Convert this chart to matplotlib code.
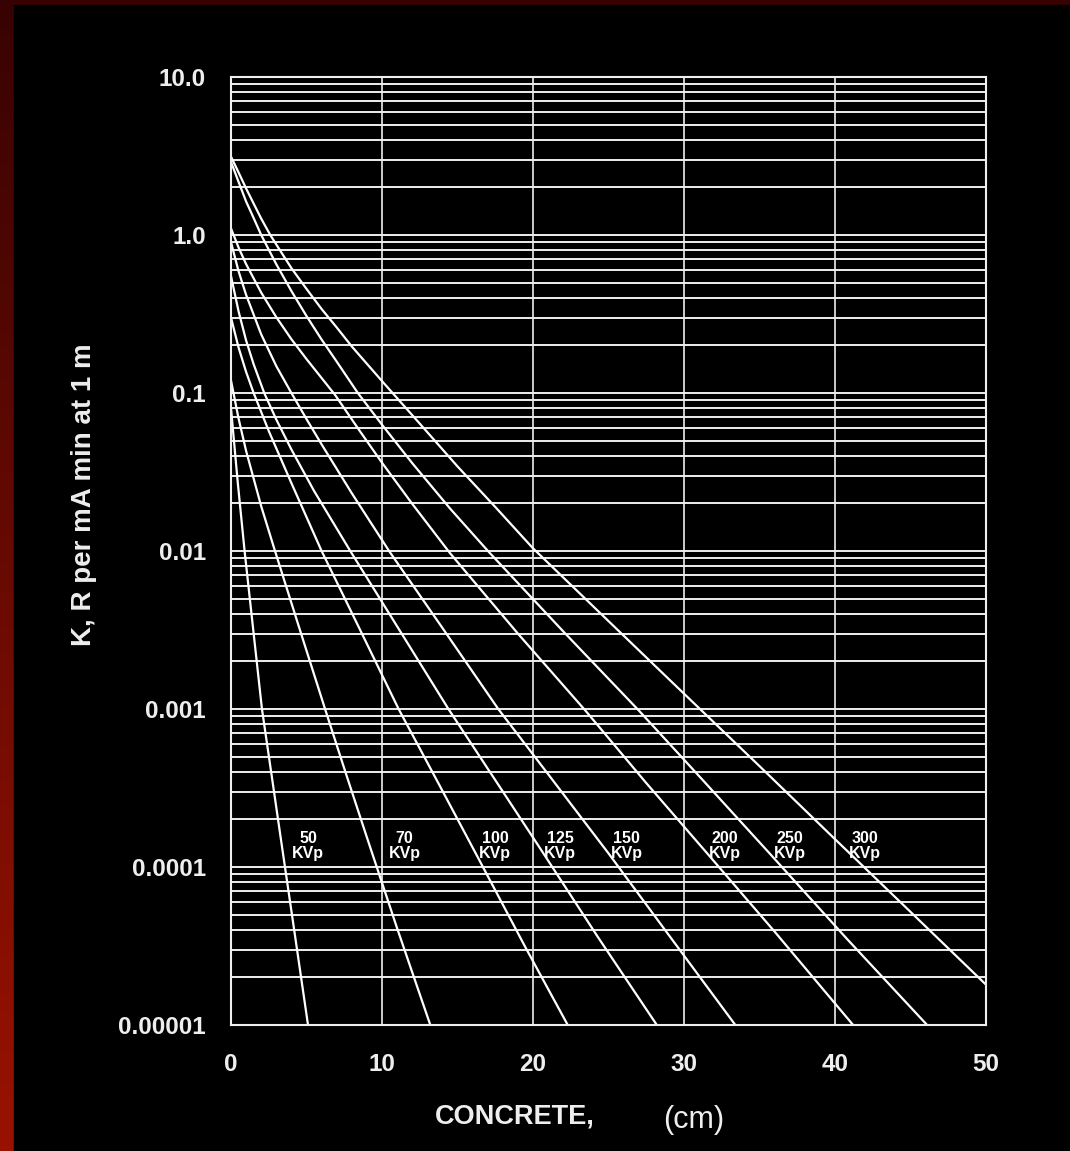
import matplotlib
matplotlib.use("Agg")
from matplotlib import pyplot as plt
from matplotlib.patches import Rectangle
from matplotlib.ticker import LogLocator, NullFormatter
import numpy as np

# Espessura de concreto (cm) e K (R por mA min a 1 m)
x_50 = [0, 0.45, 0.9, 1.5, 2.05, 2.7, 3.3, 4.2, 5.1]
k_50 = [0.08, 0.027, 0.01, 0.003, 0.001, 3.75e-4, 1.51e-4, 3.9e-5, 1e-5]

x_70 = [0, 0.5, 1, 2, 2.9, 4.5, 6.2, 7.6, 9, 11, 13.2]
k_70 = [0.12, 0.069, 0.043, 0.0192, 0.0101, 0.00331, 0.00102, 3.93e-4,
        1.54e-4, 4.1e-5, 1e-5]

x_100 = [0, 0.5, 1, 1.5, 2.5, 4, 6, 8.5, 11.1, 13.8, 16.5, 19.5, 22.3]
k_100 = [0.3, 0.194, 0.136, 0.1, 0.0575, 0.0269, 0.01, 0.00324, 0.001,
         3.3e-4, 1.08e-4, 3.1e-5, 1e-5]

x_125 = [0, 0.5, 1, 1.5, 2.2, 3, 4, 5.5, 7.9, 11.2, 14.4, 17.5, 20.5,
         24.3, 28.2]
k_125 = [0.55, 0.329, 0.215, 0.152, 0.1, 0.0679, 0.0439, 0.024, 0.01,
         0.00311, 0.001, 3.55e-4, 1.3e-4, 3.6e-5, 1e-5]

x_150 = [0, 0.5, 1, 2, 3, 4, 5, 6, 8, 10.5, 14, 17.7, 21.3, 25, 29, 33.4]
k_150 = [0.9, 0.59, 0.418, 0.235, 0.148, 0.1, 0.0684, 0.0473, 0.0232,
         0.0099, 0.00326, 0.001, 3.55e-4, 1.22e-4, 3.7e-5, 1e-5]

x_200 = [0, 0.5, 1, 2, 3, 4, 5, 6.9, 8.5, 10, 12, 14.5, 19, 23.5, 27.5,
         31.6, 36, 41.2]
k_200 = [1.1, 0.834, 0.654, 0.432, 0.302, 0.219, 0.164, 0.097, 0.058,
         0.0362, 0.0199, 0.0097, 0.003, 0.00097, 3.4e-4, 1.2e-4, 3.9e-5, 1e-5]

x_250 = [0, 0.5, 1, 1.5, 2, 3, 4, 5, 6, 7, 8.4, 10, 12, 14.5, 17.1, 22, 27,
         31.3, 35.6, 40.8, 46.1]
k_250 = [2.9, 2.17, 1.63, 1.28, 1.0, 0.653, 0.442, 0.307, 0.218, 0.158,
         0.1, 0.063, 0.036, 0.0186, 0.0098, 0.0031, 0.00098, 3.5e-4,
         1.24e-4, 3.5e-5, 1e-5]

x_300 = [0, 0.5, 1, 1.5, 2, 2.6, 3.3, 4, 5, 6, 7, 8, 10, 12.5, 15, 17.5,
         20, 25, 30, 35, 40, 45, 50]
k_300 = [3.13, 2.49, 1.97, 1.58, 1.27, 1.0, 0.785, 0.617, 0.456, 0.34,
         0.26, 0.197, 0.119, 0.064, 0.0343, 0.019, 0.0104, 0.0036, 0.00125,
         4.35e-4, 1.5e-4, 5.2e-5, 1.8e-5]

curvas = [(x_50, k_50), (x_70, k_70), (x_100, k_100), (x_125, k_125),
          (x_150, k_150), (x_200, k_200), (x_250, k_250), (x_300, k_300)]

# Rotulos das curvas (kVp) e posicao central em x
rotulos = ["50", "70", "100", "125", "150", "200", "250", "300"]
rotulo_x = [5.1, 11.5, 17.5, 21.8, 26.2, 32.7, 37.0, 42.0]
rotulo_y = 1.36e-4

x_ticks = [0, 10, 20, 30, 40, 50]
y_ticks = [1e-5, 1e-4, 1e-3, 1e-2, 1e-1, 1, 10]
y_labels = ["0.00001", "0.0001", "0.001", "0.01", "0.1", "1.0", "10.0"]

LARGURA, ALTURA = 1070, 1151
BRANCO = "#eeeeee"
plt.rcParams["font.family"] = ["Liberation Sans", "DejaVu Sans"]

figura = plt.figure(figsize=[LARGURA / 100, ALTURA / 100], dpi=100)
figura.patch.set_facecolor("black")

# Fundo com faixa vermelha em degrade na esquerda e no topo
fundo = figura.add_axes([0, 0, 1, 1], zorder=-10)
t = np.linspace(0, 1, 256)[:, None]
topo = np.array([0.22, 0.01, 0.01])
base = np.array([0.60, 0.07, 0.0])
degrade = (topo * (1 - t) + base * t)[:, None, :] * np.ones((1, 2, 1))
fundo.imshow(degrade, aspect="auto", extent=[0, 1, 0, 1], origin="upper")
fundo.add_patch(Rectangle((14 / LARGURA, 0), 1, 1 - 5 / ALTURA,
                          transform=fundo.transAxes, color="black"))
fundo.set_xlim(0, 1)
fundo.set_ylim(0, 1)
fundo.axis("off")

# Grafico principal
ax = figura.add_axes([231 / LARGURA, 1 - 1025 / ALTURA,
                      755 / LARGURA, 948 / ALTURA])
ax.set_facecolor("black")
ax.set_yscale("log")
ax.set_xlim(0, 50)
ax.set_ylim(1e-5, 10)

for xs, ks in curvas:
    ax.plot(xs, ks, color="white", lw=1.6, solid_capstyle="round",
            solid_joinstyle="round")

for nome, xr in zip(rotulos, rotulo_x):
    ax.text(xr, rotulo_y, nome + "\nKVp", color="white", fontsize=11.5,
            fontweight="bold", ha="center", va="center",
            multialignment="center", linespacing=0.95)

ax.set_xticks(x_ticks)
ax.set_yticks(y_ticks)
ax.set_yticklabels(y_labels)
ax.yaxis.set_minor_locator(LogLocator(base=10, subs=np.arange(2, 10)))
ax.yaxis.set_minor_formatter(NullFormatter())
ax.grid(True, axis="y", which="both", color=BRANCO, lw=1.4)
ax.grid(True, axis="x", which="major", color=BRANCO, lw=1.2)
ax.set_axisbelow(True)

ax.tick_params(axis="both", which="both", length=0, colors=BRANCO)
ax.tick_params(axis="y", pad=18, labelsize=17.5)
ax.tick_params(axis="x", pad=20, labelsize=17.5)
for rotulo in ax.get_xticklabels() + ax.get_yticklabels():
    rotulo.set_fontweight("bold")

for lado in ax.spines.values():
    lado.set_color(BRANCO)
    lado.set_linewidth(1.5)

# Titulos dos eixos
figura.text(84 / LARGURA, 1 - 495 / ALTURA, "K, R per mA min at 1 m",
            rotation=90, color=BRANCO, fontsize=20, fontweight="bold",
            ha="center", va="center")
figura.text(515 / LARGURA, 1 - 1117 / ALTURA, "CONCRETE,", color=BRANCO,
            fontsize=19.5, fontweight="bold", ha="center", va="center")
figura.text(694 / LARGURA, 1 - 1120 / ALTURA, "(cm)", color=BRANCO,
            fontsize=22, ha="center", va="center")

figura.savefig("out.png", dpi=100, facecolor=figura.get_facecolor())
